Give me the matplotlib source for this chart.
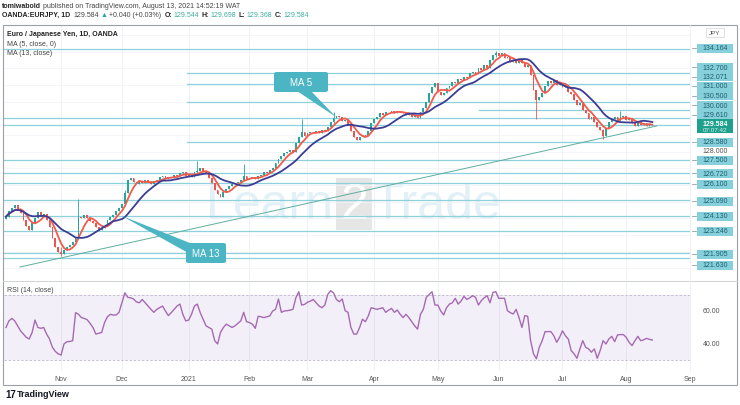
import numpy as np
import pandas as pd
import matplotlib
matplotlib.use("Agg")
import matplotlib.pyplot as plt
import matplotlib.transforms as mtransforms
from matplotlib.patches import Rectangle, Polygon, FancyBboxPatch

plt.rcParams['font.family'] = ['Liberation Sans', 'DejaVu Sans']

W, H = 740, 406

# daily closes EUR/JPY, 6 Oct 2020 -> 13 Aug 2021
closes = [
    124.10, 124.45, 124.60, 124.80, 124.55, 124.30, 123.90, 123.55, 123.30, 123.70,
    124.00, 124.35, 124.15, 124.25, 123.90, 123.50, 122.80, 122.30, 122.00, 121.85,
    122.10, 122.25, 122.40, 122.60, 122.80, 124.10, 124.00, 124.20, 124.00, 123.85,
    123.70, 123.45, 123.30, 123.40, 123.55, 123.90, 124.10, 124.20, 124.45, 124.60,
    124.85, 125.50, 126.30, 126.40, 126.20, 126.05, 126.25, 126.10, 126.30, 126.15,
    126.05, 126.25, 126.30, 126.45, 126.55, 126.35, 126.45, 126.40, 126.60, 126.55,
    126.70, 126.80, 126.55, 126.60, 126.50, 126.75, 126.85, 127.00, 126.85, 126.70,
    126.40, 126.10, 125.70, 125.45, 125.30, 125.60, 125.75, 125.95, 126.05, 126.10,
    126.20, 126.30, 126.55, 126.35, 126.40, 126.45, 126.35, 126.55, 126.60, 126.75,
    126.70, 126.90, 127.00, 127.30, 127.55, 127.75, 127.90, 128.00, 128.10, 128.00,
    128.50, 128.85, 129.20, 128.95, 129.10, 129.20, 129.15, 129.25, 129.10, 129.30,
    129.25, 129.45, 129.80, 130.00, 130.15, 130.05, 129.85, 129.90, 129.60, 129.25,
    128.90, 128.70, 128.85, 129.00, 128.95, 129.25, 129.70, 129.95, 130.10, 130.30,
    130.20, 130.40, 130.35, 130.45, 130.30, 130.45, 130.35, 130.30, 130.20, 130.25,
    130.10, 130.15, 130.00, 130.35, 130.60, 131.00, 131.50, 131.90, 132.10, 131.60,
    131.40, 131.55, 131.80, 131.95, 132.20, 132.10, 132.35, 132.30, 132.50, 132.45,
    132.70, 132.80, 132.65, 133.00, 132.90, 133.20, 133.05, 133.50, 133.80, 133.95,
    133.75, 133.90, 133.60, 133.70, 133.40, 133.45, 133.35, 133.50, 133.30, 133.10,
    133.20, 132.60, 131.70, 131.10, 131.30, 131.55, 131.95, 132.25, 132.15, 132.30,
    132.00, 132.15, 131.90, 132.00, 131.60, 131.45, 131.10, 130.80, 130.90, 130.50,
    130.30, 129.95, 130.10, 129.80, 129.50, 129.30, 128.95, 129.40, 129.80, 129.95,
    130.05, 129.85, 130.10, 130.15, 129.90, 130.00, 129.70, 129.55, 129.75, 129.60,
    129.70, 129.55, 129.65, 129.584,
]
first_open = 123.95

# visible long wicks: bar -> (high, low)
wick_marks = {19: (122.30, 121.73), 25: (125.15, 122.75), 41: (125.70, 124.80),
              66: (127.44, 126.70), 82: (127.26, 126.30), 102: (129.96, 128.85),
              113: (130.35, 129.70), 169: (134.04, 133.70), 183: (131.70, 129.96),
              206: (129.35, 128.76), 212: (130.45, 129.90)}

rsi_values = [
    50, 54, 55.5, 54, 51, 48, 46, 44, 43, 47,
    54.5, 50, 49.5, 50, 46, 43, 38, 35.5, 34, 33.3,
    40, 41.4, 41.5, 42, 59, 58, 56, 55.5, 54.7, 52.5,
    50, 46, 46.5, 47, 53, 56.5, 58, 57.5, 57.6, 59.2,
    65, 71, 68.3, 68, 67.3, 65.5, 65, 67, 65, 63,
    61, 59.2, 61, 62, 63, 60, 57.2, 59, 61, 63,
    64.2, 58, 54, 54.5, 58, 63, 64.2, 59, 55, 51,
    50, 49, 42, 40, 47, 50, 52, 51, 50, 51,
    52.5, 54, 59.2, 53.5, 53, 52, 49.5, 56.8, 56.5, 56,
    56.5, 57, 60, 61, 67.3, 59.2, 60, 60.2, 60.5, 61,
    68, 71.7, 63.6, 64, 65.3, 66, 67, 65, 63, 62,
    63.6, 70, 72.3, 71, 67, 65.6, 67.3, 60.2, 59.2, 50,
    46, 46, 50, 55, 53.5, 57, 62, 61.5, 61, 61.5,
    62, 59.2, 60.5, 61.6, 59.2, 60.6, 58, 56, 58, 56,
    53.5, 51, 49, 58, 61, 68.3, 70, 71.7, 63.6, 63.6,
    60, 57.6, 62, 64.2, 65, 67.7, 64.2, 66, 68.9, 67,
    68, 69.3, 68.3, 63.6, 66.3, 68, 69.3, 65, 71.3, 71.7,
    67.7, 67.7, 67.7, 60.2, 59, 58.2, 61, 56, 50, 57.2,
    56.8, 42, 34, 31, 38, 42, 47.5, 47.5, 47.5, 45,
    41, 44, 48, 45, 43, 36, 34, 31.3, 37, 42,
    38, 37, 35, 37, 31.3, 36, 42, 40, 43, 44.6,
    41.4, 45.5, 45.7, 45.7, 44, 41, 39, 42, 44.6, 42,
    42.5, 43.4, 42.8, 42.4,
]

level_prices = [134.164, 132.700, 132.071, 131.000, 130.500, 130.000, 129.610, 128.580,
                127.500, 126.720, 126.100, 125.090, 124.130, 123.246, 121.905, 121.630]
level_start = [0, 63, 63, 63, 164, 0, 0, 63, 0, 0, 0, 0, 0, 0, 0, 0]
# where TradingView stacks the price tags on the scale (pixel rows)
level_tag_y = [49, 68, 77.5, 87, 96.5, 106, 115.5, 143, 161, 174, 185, 202, 217, 232, 255, 266]

month_labels = ["Nov", "Dec", "2021", "Feb", "Mar", "Apr", "May", "Jun", "Jul", "Aug", "Sep"]

last_price = 129.584
trend_start = (4.8, 121.07)
trend_end = (224.5, 129.54)


def px(x, y):
    return x / W, 1 - y / H


fig = plt.figure(figsize=(W / 100, H / 100), dpi=100)
fig.patch.set_facecolor("white")
renderer = fig.canvas.get_renderer()


def text_row(x0, y, pieces, size=5.0):
    # lay text pieces one after another along a line (pixel coords)
    x = x0
    for s, col, wt, gap in pieces:
        t = fig.text(*px(x, y), s, fontsize=size, color=col, fontweight=wt, va="center")
        x += t.get_window_extent(renderer).width + gap


ax = fig.add_axes([4 / W, 1 - 281 / H, 686 / W, 254 / H])
ax2 = fig.add_axes([4 / W, 1 - 372 / H, 686 / W, 90 / H])
for a in (ax, ax2):
    a.set_facecolor("none")
    for s in a.spines.values():
        s.set_visible(False)
    a.tick_params(length=0)

n = len(closes)
xs = np.arange(n)
days = pd.bdate_range("2020-10-06", "2021-09-01")
month_idx = [i for i in range(1, len(days)) if days[i].month != days[i - 1].month]

# grid
for m in month_idx:
    ax.axvline(m, color="#eef1f6", lw=0.7, zorder=0)
    ax2.axvline(m, color="#eef1f6", lw=0.7, zorder=0)
for p in np.arange(121, 136, 1.0):
    ax.axhline(p, color="#f2f4f8", lw=0.6, zorder=0)

# horizontal levels
for p, s in zip(level_prices, level_start):
    ax.plot([s - 0.7, 236], [p, p], color="#8fd0dd", lw=0.9, zorder=1)

# trend line
ax.plot([trend_start[0], trend_end[0]], [trend_start[1], trend_end[1]],
        color="#5fae9f", lw=0.7, zorder=2)

# candles
opens = [first_open] + closes[:-1]
up = np.array(closes) >= np.array(opens)
cols = np.where(up, "#26a69a", "#ef5350")
bottoms = np.minimum(opens, closes)
heights = np.maximum(np.abs(np.array(closes) - np.array(opens)), 0.03)
highs = np.maximum(opens, closes).astype(float)
lows = np.minimum(opens, closes).astype(float)
for i, (hh, ll) in wick_marks.items():
    highs[i] = hh
    lows[i] = ll
ax.vlines(xs, lows, highs, colors=cols, lw=0.6, zorder=3)
ax.bar(xs, heights, bottom=bottoms, width=0.62, color=cols, lw=0, zorder=3)

cs = pd.Series(closes)
ax.plot(xs, cs.rolling(5, min_periods=1).mean(), color="#f25a4c", lw=1.3, zorder=4)
ax.plot(xs, cs.rolling(13, min_periods=1).mean(), color="#3b3d94", lw=1.3, zorder=4)

ax.set_xlim(-0.7, 236)
ax.set_ylim(120.29, 135.545)
ax.set_xticks([])
ax.set_yticks([])

# RSI panel
ax2.axhspan(30, 70, color="#7e57c2", alpha=0.09, lw=0, zorder=0)
ax2.axhline(70, color="#c2b8cc", lw=0.6, ls=(0, (3, 2)), zorder=1)
ax2.axhline(30, color="#c2b8cc", lw=0.6, ls=(0, (3, 2)), zorder=1)
ax2.plot(xs, rsi_values, color="#a66ab2", lw=1.0, zorder=3)
ax2.set_xlim(-0.7, 236)
ax2.set_ylim(23.6, 78.2)
ax2.set_yticks([])
ax2.set_xticks(month_idx)
ax2.set_xticklabels(month_labels, fontsize=5, color="#555555")
ax2.tick_params(axis="x", pad=3)
tr2 = mtransforms.blended_transform_factory(ax2.transAxes, ax2.transData)
for v in (60, 40):
    ax2.text(1 + 13 / 686, v, f"{v:.2f}", transform=tr2, fontsize=5, color="#555555",
             va="center", ha="left")

# frame and separators
fig.add_artist(Rectangle(px(3, 386), 734 / W, 360 / H, transform=fig.transFigure,
                         fill=False, ec="#9aa0a6", lw=0.8, zorder=1))
fig.add_artist(plt.Line2D([3 / W, 737 / W], [1 - 282 / H] * 2, transform=fig.transFigure,
                          color="#cfd3d8", lw=0.7))
fig.add_artist(plt.Line2D([690 / W] * 2, [1 - 372 / H, 1 - 26 / H], transform=fig.transFigure,
                          color="#eceff2", lw=0.6))

# watermark
wm_col = "#e2f0f7"
fig.text(*px(334, 206), "Learn", fontsize=36, color=wm_col, ha="right", va="center", zorder=-1)
fig.add_artist(Rectangle(px(336, 231), 36 / W, 52 / H, transform=fig.transFigure,
                         color="#e6e6e6", lw=0, zorder=-1))
fig.text(*px(354, 206), "2", fontsize=36, color="white", ha="center", va="center", zorder=-1)
fig.text(*px(373, 206), "Trade", fontsize=36, color=wm_col, ha="left", va="center", zorder=-1)

# price tags on the right scale
tag_col = "#86d0dc"
for p, ty in zip(level_prices, level_tag_y):
    fig.add_artist(Rectangle(px(697, ty + 4.5), 36 / W, 9 / H, transform=fig.transFigure,
                             color=tag_col, lw=0, zorder=5))
    fig.add_artist(plt.Line2D([692 / W, 696 / W], [1 - ty / H] * 2, transform=fig.transFigure,
                              color="#7a8a90", lw=0.5, zorder=5))
    fig.text(*px(715, ty), f"{p:.3f}", fontsize=5, color="#1d5f6b", ha="center",
             va="center", zorder=6)
fig.text(*px(715, 152), "128.000", fontsize=5, color="#555555", ha="center", va="center")
fig.add_artist(Rectangle(px(697, 134), 36 / W, 14 / H, transform=fig.transFigure,
                         color="#1fa08c", lw=0, zorder=6))
fig.text(*px(715, 124), f"{last_price:.3f}", fontsize=5, color="white", ha="center",
         va="center", zorder=7, fontweight="bold")
fig.text(*px(715, 131), "07:07:42", fontsize=4.5, color="#d8f2ee", ha="center",
         va="center", zorder=7)
fig.add_artist(Rectangle(px(706, 38), 18 / W, 9 / H, transform=fig.transFigure,
                         fill=False, ec="#d0d4d8", lw=0.5, zorder=5))
fig.text(*px(715, 33.5), "JPY", fontsize=4.5, color="#555555", ha="center", va="center")

# callouts
call_col = "#4bb5c3"
fig.add_artist(Polygon([px(297, 92), px(311, 92), px(336, 118)], closed=True,
                       transform=fig.transFigure, color=call_col, lw=0, zorder=6))
fig.add_artist(FancyBboxPatch(px(274, 93), 54 / W, 20 / H, boxstyle="round,pad=0,rounding_size=0.004",
                              transform=fig.transFigure, color=call_col, lw=0, zorder=6))
fig.text(*px(301, 83), "MA 5", fontsize=7, color="white", ha="center", va="center", zorder=7)
fig.add_artist(Polygon([px(122, 217), px(190, 244), px(190, 255)], closed=True,
                       transform=fig.transFigure, color=call_col, lw=0, zorder=6))
fig.add_artist(FancyBboxPatch(px(186, 264), 40 / W, 20 / H, boxstyle="round,pad=0,rounding_size=0.004",
                              transform=fig.transFigure, color=call_col, lw=0, zorder=6))
fig.text(*px(206, 254), "MA 13", fontsize=7, color="white", ha="center", va="center", zorder=7)

# legend inside the chart
fig.text(*px(7, 35), "Euro / Japanese Yen, 1D, OANDA", fontsize=5, color="#222222",
         va="center", fontweight="bold")
fig.text(*px(7, 45), "MA (5, close, 0)", fontsize=5, color="#444444", va="center")
fig.text(*px(7, 54), "MA (13, close)", fontsize=5, color="#444444", va="center")
fig.text(*px(7, 290), "RSI (14, close)", fontsize=5, color="#444444", va="center")

# header
dark, grey, teal = "#222222", "#444444", "#3fb0a2"
text_row(2, 6, [("tomiwabold", dark, "bold", 2),
                ("published on TradingView.com, August 13, 2021 14:52:19 WAT", grey, "normal", 0)])
text_row(2, 15.5, [("OANDA:EURJPY, 1D", dark, "bold", 3),
                   ("129.584", grey, "normal", 2),
                   ("\u25b2", "#26a69a", "normal", 2),
                   ("+0.040 (+0.03%)", grey, "normal", 3),
                   ("O:", dark, "bold", 1), ("129.544", teal, "normal", 3),
                   ("H:", dark, "bold", 1), ("129.698", teal, "normal", 3),
                   ("L:", dark, "bold", 1), ("129.368", teal, "normal", 3),
                   ("C:", dark, "bold", 1), ("129.584", teal, "normal", 0)])

# footer logo
fig.text(*px(5, 395), "17", fontsize=7, color="#131722", va="center", fontweight="bold")
fig.text(*px(17, 395), "TradingView", fontsize=6.5, color="#131722", va="center",
         fontweight="bold")

fig.savefig("out.png", dpi=100)
